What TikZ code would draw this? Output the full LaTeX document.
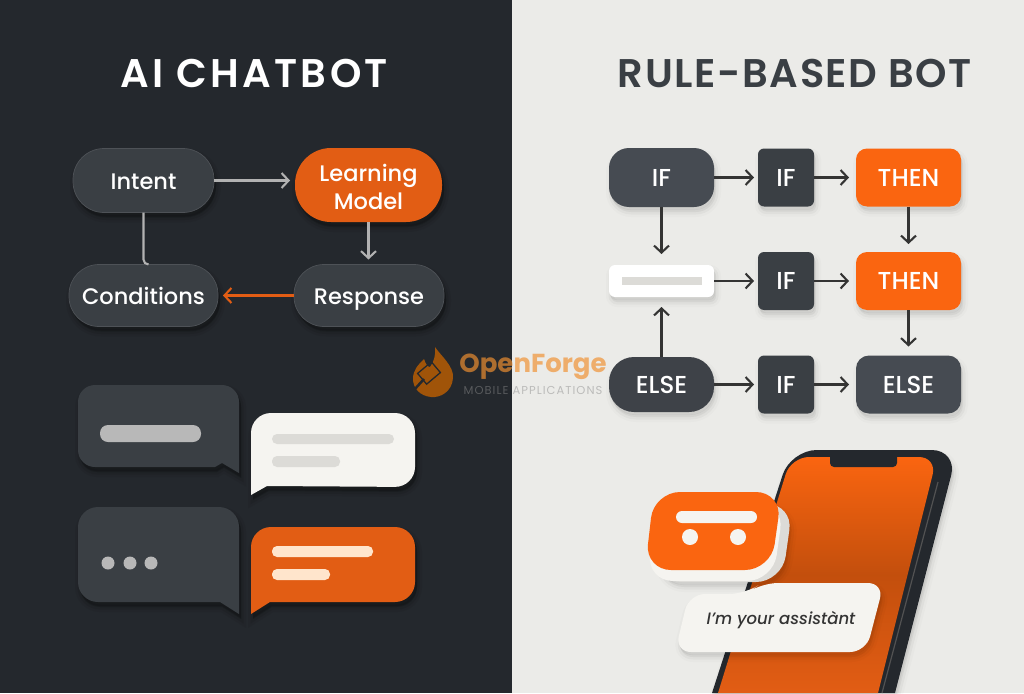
\documentclass[tikz,border=0pt]{standalone}
\usepackage{fontspec}
\setmainfont{Poppins Medium}
\newfontfamily\titlefont[LetterSpace=4]{Poppins SemiBold}
\newfontfamily\widetitlefont[LetterSpace=8.5]{Poppins SemiBold}
\newfontfamily\boldfont{Poppins}[UprightFont=*-Bold]
\newfontfamily\smallfont[LetterSpace=9]{Poppins}
\usepackage{tikz}
\usetikzlibrary{positioning}
\usetikzlibrary{shapes.geometric, arrows.meta, shadows}
\definecolor{darkpanel}{HTML}{24282D}
\definecolor{lightpanel}{HTML}{EBEBE8}
\definecolor{darkbox}{HTML}{3A3F44}
\definecolor{slatebox}{HTML}{464B52}
\definecolor{forge}{HTML}{FA6510}
\definecolor{deepforge}{HTML}{E25D14}
\definecolor{paper}{HTML}{F5F4F0}
\definecolor{barcol}{HTML}{DCDBD7}
\definecolor{brandcol}{HTML}{F09030}
\tikzstyle{softdark} = [general shadow={shadow xshift=2pt,shadow yshift=-5pt,fill=black,draw=black,line width=10pt,opacity=.05},
	general shadow={shadow xshift=2pt,shadow yshift=-5pt,fill=black,draw=black,line width=5pt,opacity=.08},
	general shadow={shadow xshift=2pt,shadow yshift=-4pt,fill=black,opacity=.15}]
\tikzstyle{softlight} = [general shadow={shadow xshift=2pt,shadow yshift=-5pt,fill=black,draw=black,line width=10pt,opacity=.015},
	general shadow={shadow xshift=2pt,shadow yshift=-5pt,fill=black,draw=black,line width=5pt,opacity=.03},
	general shadow={shadow xshift=1pt,shadow yshift=-3pt,fill=black,opacity=.05}]
\tikzstyle{pill} = [rectangle,inner sep=0pt,outer sep=0pt,align=center,text=white,font=\fontsize{22.5}{28}\selectfont]
\tikzstyle{darkpill} = [pill,softdark,fill=darkbox,draw=white!10!darkbox,line width=.7pt,text height=21.5pt,text depth=4pt]
\tikzstyle{flowbox} = [pill,softlight,font=\fontsize{24.5}{28}\selectfont,minimum height=58pt]
\tikzstyle{arrow} = [line width=2.1pt,-{Straight Barb[length=7pt,width=15pt]},color=black!78!lightpanel,shorten >=5pt]
\tikzstyle{darkarrow} = [arrow,color=black!30!white]
\tikzstyle{bubbledark} = [softdark,fill=darkbox]
\tikzstyle{barnode} = [rectangle,inner sep=0pt,outer sep=0pt]
\begin{document}
\begin{tikzpicture}[x=1pt,y=-1pt]
	\useasboundingbox (0,0) rectangle (1024,693);
	\fill[darkpanel] (0,0) rectangle (512,693);
	\fill[lightpanel] (512,0) rectangle (1024,693);

	%Titles
	\node (lefttitle) [text=white,font=\widetitlefont\fontsize{40}{44}\selectfont] at (254,73) {AI CHATBOT};
	\node (righttitle) [text=darkbox,font=\titlefont\fontsize{40}{44}\selectfont] at (795,73) {RULE-BASED BOT};

	%Nodes left
	\node (intent) [darkpill,rounded corners=31pt,minimum width=141pt,minimum height=64pt] at (143.5,180.5) {Intent};
	\node (model) [pill,softdark,fill=deepforge,rounded corners=36pt,minimum width=147pt,minimum height=74pt,right=81pt of intent,yshift=-4.5pt] {\rule{0pt}{21pt}Learning\\Model};
	\node (conditions) [darkpill,rounded corners=30pt,minimum width=149pt,minimum height=62pt,below=52pt of intent] {Conditions};
	\node (response) [darkpill,rounded corners=30pt,minimum width=150pt,minimum height=62pt,right=76pt of conditions] {Response};

	%Lines left
	\draw[darkarrow] (intent.east) -- (intent.east -| model.west);
	\draw[darkarrow] (model.south) -- (model.south |- response.north);
	\draw[darkarrow,color=deepforge] (response.west) -- (conditions.east);
	\draw[line width=2.1pt,color=black!30!white,rounded corners=5pt] (intent.south) |- ([xshift=5pt]conditions.north);

	%Nodes right
	\node (if1) [flowbox,fill=slatebox,rounded corners=20pt,minimum width=105pt,minimum height=59pt] at (661.5,177.5) {IF};
	\node (if2) [flowbox,fill=darkbox,rounded corners=6pt,minimum width=56pt,right=44pt of if1] {IF};
	\node (then1) [flowbox,fill=forge,rounded corners=11pt,minimum width=105pt,right=42pt of if2] {THEN};

	\node (blank) [barnode,softlight,fill=white,rounded corners=6pt,minimum width=105pt,minimum height=32pt,below=58pt of if1] {};
	\node (blankbar) [barnode,fill=barcol,minimum width=80pt,minimum height=8pt] at (blank.center) {};
	\node (if3) [flowbox,fill=darkbox,rounded corners=6pt,minimum width=56pt,right=44pt of blank] {IF};
	\node (then2) [flowbox,fill=forge,rounded corners=11pt,minimum width=105pt,right=42pt of if3] {THEN};

	\node (else1) [flowbox,fill=slatebox!88!black,rounded corners=25pt,minimum width=105pt,minimum height=55pt,below=60pt of blank] {ELSE};
	\node (if4) [flowbox,fill=darkbox,rounded corners=6pt,minimum width=56pt,right=44pt of else1] {IF};
	\node (else2) [flowbox,fill=slatebox,rounded corners=13pt,minimum width=105pt,right=42pt of if4] {ELSE};

	%Lines right
	\draw[arrow,shorten >=4pt] (if1.east) -- (if2.west);
	\draw[arrow,shorten >=7pt] (if2.east) -- (then1.west);
	\draw[arrow,shorten >=8pt] (then1.south) -- (then2.north);
	\draw[arrow,shorten >=11pt] (if1.south) -- (blank.north);
	\draw[arrow,shorten >=4pt] (blank.east) -- (if3.west);
	\draw[arrow,shorten >=7pt] (if3.east) -- (then2.west);
	\draw[arrow,shorten >=9pt] (then2.south) -- (else2.north);
	\draw[arrow,shorten >=10pt] (else1.north) -- (blank.south);
	\draw[arrow,shorten >=4pt] (else1.east) -- (if4.west);
	\draw[arrow,shorten >=7pt] (if4.east) -- (else2.west);

	%Chat bubbles
	\path[bubbledark] (150,385) [rounded corners=17pt] -- (239,385) [sharp corners] -- (239,473) -- (222,463) -- (215,467) [rounded corners=17pt] -- (78,467) -- (78,385) -- cycle;
	\node (greybar) [barnode,fill=black!28!white,rounded corners=8pt,minimum width=101pt,minimum height=17pt] at (150.5,433.5) {};

	\path[softdark,fill=paper] (251,495) [rounded corners=20pt] -- (251,413) -- (415,413) -- (415,487) [sharp corners] -- (267,486) -- cycle;
	\node (whitebar1) [barnode,fill=barcol,rounded corners=5pt,minimum width=122pt,minimum height=10pt] at (333,439) {};
	\node (whitebar2) [barnode,fill=barcol,rounded corners=5pt,minimum width=68pt,minimum height=11pt] at (306,461.5) {};

	\path[bubbledark] (150,507) [rounded corners=20pt] -- (239,507) [sharp corners] -- (239,614) -- (220,602) [rounded corners=20pt] -- (78,602) -- (78,507) -- cycle;
	\foreach \dotx in {108,130,151}
		\fill[black!28!white] (\dotx,563) circle (6.5);

	\path[softdark,fill=deepforge] (251,614) [rounded corners=20pt] -- (251,527) -- (415,527) -- (415,602) [sharp corners] -- (270,602) -- cycle;
	\node (orangebar1) [barnode,fill=orange!20!white,rounded corners=5pt,minimum width=101pt,minimum height=11pt] at (322.5,551.5) {};
	\node (orangebar2) [barnode,fill=orange!20!white,rounded corners=5pt,minimum width=58pt,minimum height=11pt] at (301,574.5) {};

	%Phone
	\path[softlight,fill=darkpanel,rounded corners=26pt] (712,693) [rounded corners=26pt] -- (790.7,450) -- (957.7,450) [sharp corners] -- (895,693) -- cycle;
	\path[top color=forge,bottom color=deepforge,middle color=forge!78!black,rounded corners=18pt] (718,693) -- (791,457) -- (937,457) [sharp corners] -- (878,693) -- cycle;
	\draw[line width=1.2pt,color=black!68!white] (938,482) -- (882,693);
	\fill[darkpanel,rounded corners=4pt] (830,452) rectangle (897,467);

	%Robot
	\tikzset{robotbody/.style={rounded corners=26pt,insert path={(654,492) -- (782,492) -- (771,570) -- (645,570) -- cycle}}}
	\path[softlight,fill=barcol,xshift=11pt,yshift=-12pt,robotbody];
	\path[fill=paper,xshift=2pt,yshift=-11pt,robotbody];
	\path[fill=forge,robotbody];
	\node (robotbrow) [barnode,fill=paper,rounded corners=6pt,minimum width=81pt,minimum height=12pt] at (716.5,517) {};
	\node (roboteye1) [circle,fill=paper,inner sep=0pt,minimum size=16pt] at (690,537) {};
	\node (roboteye2) [circle,fill=paper,inner sep=0pt,minimum size=16pt] at (738,537) {};

	%Assistant bubble
	\path[softlight,fill=paper,rounded corners=16pt] (689,594) -- (745,594) -- (762,583) -- (884,583) -- (866,652) -- (675,652) -- cycle;
	\node (assistant) [text=black!80!white,font=\itshape\fontsize{16.5}{20}\selectfont] at (781,620) {I’m your assistànt};

	%Watermark
	\path[fill=orange!75!black,opacity=.8] (435,347) .. controls (441,356) and (454,366) .. (453,378) .. controls (452,392) and (440,398) .. (431,397) .. controls (420,396) and (413,388) .. (413,379) .. controls (413,370) and (418,365) .. (424,359) .. controls (426,365) and (428,367) .. (430,367) .. controls (434,362) and (436,354) .. (435,347) -- cycle;
	\draw[darkpanel,line width=1.3pt,rotate around={40:(429,373)}] (420,366) rectangle (438,380);
	\draw[darkpanel,line width=2.5pt] (424,379) -- (414,390);
	\node (brand) [text=brandcol,text opacity=.68,font=\boldfont\fontsize{26}{28}\selectfont] at (533,367) {OpenForge};
	\node (brandsub) [text=black!45!white,text opacity=.5,font=\smallfont\fontsize{11.5}{13}\selectfont] at (533,390) {MOBILE APPLICATIONS};
\end{tikzpicture}
\end{document}
